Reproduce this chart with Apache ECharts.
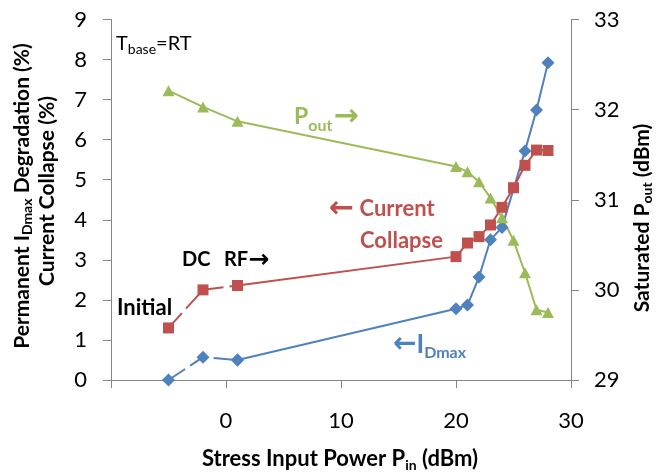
<!DOCTYPE html>
<html>
<head>
<meta charset="utf-8">
<script src="https://cdn.jsdelivr.net/npm/echarts@6/dist/echarts.min.js"></script>
<style>
  html, body { margin: 0; padding: 0; background: #fff; }
  #chart { width: 657px; height: 472px; }
</style>
</head>
<body>
<div id="chart"></div>
<script>
// ---- data ----
const pinX = [-5, -2, 1, 20, 21, 22, 23, 24, 25, 26, 27, 28];
const idmaxX = [-5, -2, 1, 20, 21, 22, 23, 24, 26, 27, 28];
const idmaxDegradation = [0, 0.57, 0.5, 1.78, 1.87, 2.57, 3.5, 3.81, 5.72, 6.74, 7.92];
const currentCollapse = [1.3, 2.25, 2.36, 3.08, 3.42, 3.58, 3.87, 4.31, 4.8, 5.36, 5.74, 5.73];
const poutSaturated = [32.21, 32.03, 31.87, 31.37, 31.31, 31.2, 31.02, 30.8, 30.55, 30.19, 29.78, 29.75];
const xTickLabels = ['', '0', '10', '20', '30'];      // -10, 0, 10, 20, 30
const leftTickLabels = ['0','1','2','3','4','5','6','7','8','9'];
const rightTickLabels = ['29','30','31','32','33'];

const FONT = 'Lato, "DejaVu Sans", sans-serif';
const ARROW_FONT = '"DejaVu Sans", sans-serif';
const BLUE = '#4F81BD', RED = '#C0504D', GREEN = '#9BBB59', AXIS = '#868686';

function pairs(xs, ys) { return xs.map((x, i) => [x, ys[i]]); }
const bluePts = pairs(idmaxX, idmaxDegradation);
const redPts = pairs(pinX, currentCollapse);
const greenPts = pairs(pinX, poutSaturated);
const DASH_END = 3; // first three points (-5, -2, 1) joined by dashed lines

function lineSeries(name, data, color, symbol, size, yIndex, dashed) {
  return {
    name, type: 'line', data, yAxisIndex: yIndex,
    symbol, symbolSize: size,
    itemStyle: { color },
    lineStyle: { color, width: 2, type: dashed ? [20, 6] : 'solid' },
    emphasis: { disabled: true }, animation: false
  };
}

const axisCommon = {
  axisLine: { show: true, onZero: false, lineStyle: { color: AXIS, width: 1 } },
  axisTick: { show: true, inside: false, length: 8, lineStyle: { color: AXIS } },
  splitLine: { show: false }
};

const sub = (size, weight, color) => ({ fontSize: size, fontWeight: weight, fontFamily: FONT, fill: color, lineHeight: 12, verticalAlign: 'bottom' });
const main = (size, weight, color) => ({ fontSize: size, fontWeight: weight, fontFamily: FONT, fill: color, lineHeight: size + 4 });
const arrow = (size, color) => ({ fontSize: size, fontWeight: 'bold', fontFamily: ARROW_FONT, fill: color, lineHeight: size + 4 });

function rtext(x, y, text, rich, opts) {
  opts = opts || {};
  return {
    type: 'text', x, y, rotation: opts.rotation || 0, z: 100,
    style: { text, rich, align: opts.align || 'left', verticalAlign: 'middle' }
  };
}

const chart = echarts.init(document.getElementById('chart'));
chart.setOption({
  backgroundColor: '#fff',
  animation: false,
  grid: { left: 111, right: 86, top: 19.5, bottom: 92, containLabel: false },
  xAxis: Object.assign({
    type: 'value', min: -10, max: 30, interval: 10,
    axisLabel: {
      fontSize: 22, color: '#000', fontFamily: FONT, margin: 30,
      formatter: v => xTickLabels[Math.round((v + 10) / 10)]
    }
  }, axisCommon),
  yAxis: [
    Object.assign({
      type: 'value', min: 0, max: 9, interval: 1, position: 'left',
      axisLabel: { fontSize: 22, color: '#000', fontFamily: FONT, margin: 24,
        formatter: v => leftTickLabels[Math.round(v)] }
    }, axisCommon),
    Object.assign({
      type: 'value', min: 29, max: 33, interval: 1, position: 'right',
      axisLabel: { fontSize: 22, color: '#000', fontFamily: FONT, margin: 23,
        formatter: v => rightTickLabels[Math.round(v - 29)] }
    }, axisCommon)
  ],
  series: [
    lineSeries('IDmax dashed', bluePts.slice(0, DASH_END), BLUE, 'diamond', 13, 0, true),
    lineSeries('IDmax', bluePts.slice(DASH_END - 1), BLUE, 'diamond', 13, 0, false),
    lineSeries('CC dashed', redPts.slice(0, DASH_END), RED, 'rect', 11, 0, true),
    lineSeries('CC', redPts.slice(DASH_END - 1), RED, 'rect', 11, 0, false),
    lineSeries('Pout', greenPts, GREEN, 'triangle', [12, 11], 1, false)
  ],
  graphic: [
    // axis titles
    rtext(22, 196, '{m|Permanent I}{s|Dmax}{m| Degradation (%)}',
      { m: main(21, 'bold', '#000'), s: sub(14, 'bold', '#000') }, { align: 'center', rotation: Math.PI / 2 }),
    rtext(47, 191, '{m|Current Collapse (%)}',
      { m: main(21, 'bold', '#000') }, { align: 'center', rotation: Math.PI / 2 }),
    rtext(642, 218, '{m|Saturated P}{s|out}{m| (dBm)}',
      { m: main(21, 'bold', '#000'), s: sub(14, 'bold', '#000') }, { align: 'center', rotation: Math.PI / 2 }),
    rtext(340, 459, '{m|Stress Input Power P}{s|in}{m| (dBm)}',
      { m: main(22, 'bold', '#000'), s: sub(14, 'bold', '#000') }, { align: 'center' }),
    // annotations
    rtext(116, 44, '{m|T}{s|base}{m|=RT}',
      { m: main(20, 'normal', '#000'), s: sub(14, 'normal', '#000') }),
    rtext(294, 117, '{m|P}{s|out}{g| }{a|→}',
      { m: main(23, 'bold', GREEN), s: sub(16, 'bold', GREEN), g: main(4, 'bold', GREEN), a: arrow(30, GREEN) }),
    rtext(329, 209, '{a|←}{m| Current}',
      { m: main(22, 'bold', RED), a: arrow(30, RED) }),
    rtext(360, 241, '{m|Collapse}', { m: main(22, 'bold', RED) }),
    rtext(182, 260, '{m|DC}', { m: main(20, 'bold', '#000') }),
    rtext(224, 260, '{m|RF}{a|→}', { m: main(20, 'bold', '#000'), a: arrow(25, '#000') }),
    rtext(117, 308, '{m|Initial}', { m: main(22, 'bold', '#000') }),
    rtext(393, 345, '{a|←}{m|I}{s|Dmax}',
      { a: arrow(28, BLUE), m: main(26, 'bold', BLUE), s: sub(16, 'bold', BLUE) })
  ]
});
</script>
</body>
</html>
